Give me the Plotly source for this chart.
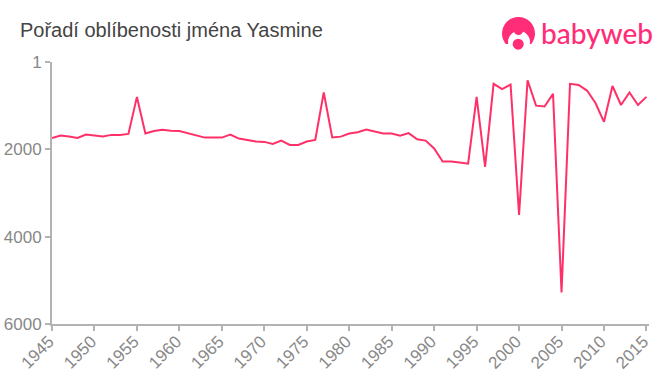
import plotly.graph_objects as go

years = list(range(1945, 2016))
ranks = [1740, 1686, 1708, 1740, 1663, 1686, 1708, 1670, 1670, 1647,
         800, 1640, 1580, 1550, 1575, 1580, 1625, 1670, 1732, 1732,
         1732, 1663, 1755, 1785, 1823, 1830, 1876, 1800, 1900, 1900,
         1823, 1785, 700, 1730, 1710, 1640, 1610, 1550, 1600, 1640,
         1640, 1690, 1630, 1770, 1800, 1980, 2280, 2280, 2300, 2330,
         800, 2400, 500, 620, 520, 3500, 420, 1000, 1020, 730,
         5280, 500, 525, 655, 940, 1370, 550, 985, 700, 985, 800]
y_ticks = [1, 2000, 4000, 6000]
x_ticks = list(range(1945, 2016, 5))
title_text = "Pořadí oblíbenosti jména Yasmine"
brand = "babyweb"

PINK = "#ff2d78"
W, H = 660, 375
L, R, T, B = 52, 649, 62, 324


def px(x):
    return (x - L) / (R - L)


def py(y):
    return (B - y) / (B - T)


def circle(x0, x1, y0, y1, color):
    return dict(type="circle", xref="paper", yref="paper", x0=px(x0), x1=px(x1),
                y0=py(y1), y1=py(y0), fillcolor=color, line_width=0, layer="above")


fig = go.Figure(go.Scatter(x=years, y=ranks, mode="lines",
                           line=dict(color="#ff3068", width=2), hoverinfo="skip"))

shapes = [
    circle(502, 535, 17, 50, PINK),
    circle(508, 530, 31, 53, "white"),
    dict(type="rect", xref="paper", yref="paper", x0=px(500), x1=px(537), y0=py(54), y1=py(44),
         fillcolor="white", line_width=0, layer="above"),
    circle(512.7, 523.7, 38.7, 49.7, PINK),
    circle(514, 523, 27, 35, PINK),
]

fig.update_layout(
    width=W, height=H, autosize=False, template=None,
    margin=dict(l=L, r=W - R, t=T, b=H - B, pad=0),
    paper_bgcolor="white", plot_bgcolor="white", showlegend=False,
    font=dict(family="Liberation Sans, Arial, sans-serif"),
    shapes=shapes,
    annotations=[
        dict(text=title_text, xref="paper", yref="paper", x=px(18), y=py(30),
             xanchor="left", yanchor="middle", showarrow=False,
             font=dict(size=20, color="#444444")),
        dict(text=brand, xref="paper", yref="paper", x=px(539), y=py(33),
             xanchor="left", yanchor="middle", showarrow=False,
             font=dict(family="Lato, sans-serif", size=28, color=PINK, weight=500)),
    ],
    xaxis=dict(range=[1945, 2015.3], tickvals=x_ticks, tickangle=-45, automargin=False,
               ticks="outside", ticklen=5, tickwidth=1.5, tickcolor="#b3b3b3",
               ticklabelstandoff=-6, ticklabelshift=-3,
               showline=True, linecolor="#b3b3b3", linewidth=2, showgrid=False, zeroline=False,
               tickfont=dict(size=17, color="#888888")),
    yaxis=dict(range=[6000, 1], tickvals=y_ticks, ticktext=[str(v) for v in y_ticks], automargin=False,
               ticks="outside", ticklen=5, tickwidth=1.5, tickcolor="#b3b3b3",
               showline=True, linecolor="#b3b3b3", linewidth=2, showgrid=False, zeroline=False,
               tickfont=dict(size=17, color="#888888")),
)
fig.write_html("out.html", config={"displayModeBar": False},
               post_script="document.body.style.margin='0';")
